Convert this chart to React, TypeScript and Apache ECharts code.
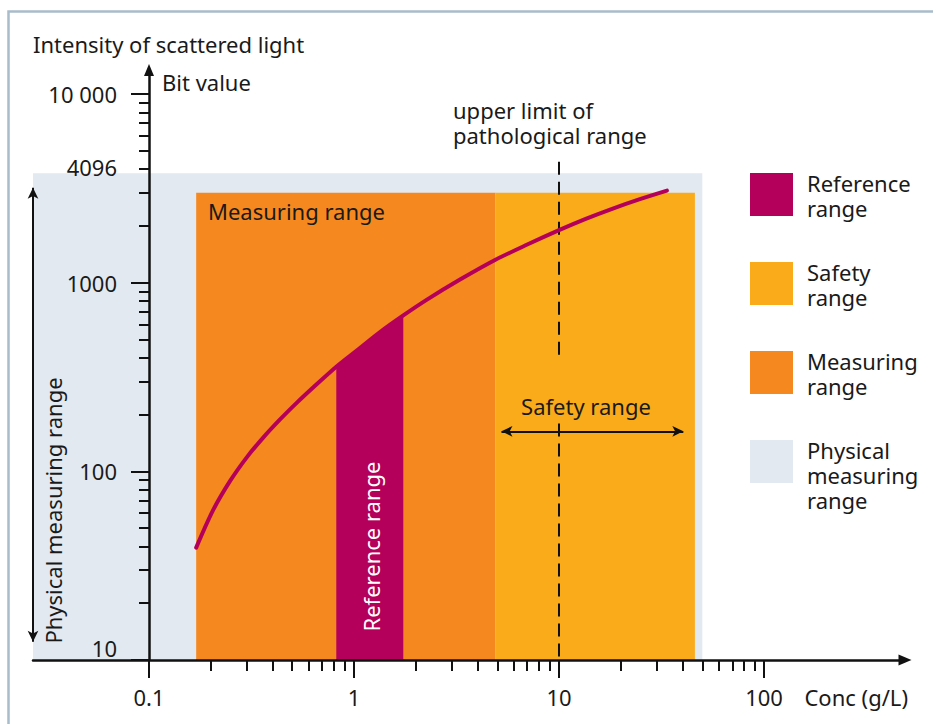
import React, { useEffect, useRef } from 'react';
import * as echarts from 'echarts';

// ---- Axis extents (logarithmic scales) ----
const X_EXTENT = [0.0272, 487];
const Y_EXTENT = [10, 13400];

// ---- Ticks and tick labels ----
const X_LABELS = [0.1, 1, 10, 100];
const X_MINOR_TICKS = [0.2, 0.3, 0.4, 0.5, 0.6, 0.7, 0.8, 0.9, 2, 3, 4, 5, 6, 7, 8, 9, 20, 30, 40, 50, 60, 70, 80, 90];
const Y_LABELS = [10, 100, 1000, 4096, 10000];
const Y_MAJOR_TICKS = [10, 100, 1000, 10000];
const Y_MINOR_TICKS = [20, 30, 40, 50, 60, 70, 80, 90, 200, 300, 400, 500, 600, 700, 800, 900, 2000, 3000, 4000, 5000, 6000, 7000, 8000, 9000];

// ---- Calibration curve: concentration (g/L) -> bit value ----
const CURVE_CONC = [0.17, 0.205, 0.248, 0.3, 0.36, 0.436, 0.527, 0.63, 0.82, 1.05, 1.34, 1.74, 2.27, 3.29, 4.9, 7.0, 10, 13.5, 18.3, 24.8, 33.6];
const CURVE_BIT = [39.4, 61.9, 88.4, 118.6, 150.5, 188.4, 231.3, 277.3, 358.7, 443.7, 547.4, 670.3, 812.8, 1038, 1322, 1592, 1898, 2178, 2470, 2771, 3076];

// ---- Ranges: [conc from, conc to, bit from, bit to] ----
const PHYSICAL_RANGE = [0.0272, 50, 10, 3800];
const MEASURING_RANGE = [0.17, 4.9, 10, 3000];
const SAFETY_RANGE = [4.9, 46, 10, 3000];
const REFERENCE_RANGE = [0.82, 1.74];

// ---- Annotations ----
const UPPER_LIMIT_CONC = 10;
const UPPER_LIMIT_SEGMENTS = [[4375, 395], [179, 10]];
const SAFETY_ARROW_CONC = [5.24, 40.4];
const SAFETY_ARROW_BIT = 163;
const PHYSICAL_ARROW_BIT = [12.5, 3180];

// ---- Legend ----
const LEGEND_NAMES = ['Reference\nrange', 'Safety\nrange', 'Measuring\nrange', 'Physical\nmeasuring\nrange'];
const LEGEND_COLORS = ['#b4005a', '#faab1a', '#f5881f', '#e3e9f0'];

const FONT = 'Noto Sans';
const INK = '#1a1a1a';
const AXIS = '#111111';
const C_REF = LEGEND_COLORS[0];
const C_SAFE = LEGEND_COLORS[1];
const C_MEAS = LEGEND_COLORS[2];
const C_PHYS = LEGEND_COLORS[3];

function fmtBit(v: number): string {
  if (Math.abs(v - 10) < 1e-9) return '{lift|10}';
  const s = String(Math.round(v));
  return v >= 10000 ? s.replace(/\B(?=(\d{3})+(?!\d))/g, ' ') : s;
}

function bandSeries(name: string, range: number[], color: string, z: number) {
  return {
    type: 'custom',
    name,
    z,
    silent: true,
    encode: { x: [0, 1], y: [2, 3] },
    data: [range],
    renderItem: (_p: any, api: any) => {
      const tl = api.coord([api.value(0), api.value(3)]);
      const br = api.coord([api.value(1), api.value(2)]);
      return {
        type: 'rect',
        shape: { x: tl[0], y: tl[1], width: br[0] - tl[0], height: br[1] - tl[1] },
        style: { fill: color },
      };
    },
  };
}

export default function App() {
  const ref = useRef<HTMLDivElement>(null);

  useEffect(() => {
    document.body.style.margin = '0';
    if (!ref.current) return;
    const chart = echarts.init(ref.current, undefined, { renderer: 'svg' });

    const curve = CURVE_CONC.map((c, i) => [c, CURVE_BIT[i]]);
    const refArea = curve.filter(([c]) => c >= REFERENCE_RANGE[0] - 1e-9 && c <= REFERENCE_RANGE[1] + 1e-9);

    const axisLabelStyle = { fontFamily: FONT, fontSize: 22, color: INK };
    const tickLine = { color: AXIS, width: 2 };

    const legendTop = 173;
    const legendStep = 89;
    const legendGraphics: any[] = [];
    LEGEND_NAMES.forEach((name, i) => {
      const top = legendTop + i * legendStep;
      legendGraphics.push({
        type: 'rect', z: 100, silent: true,
        shape: { x: 750, y: top, width: 43, height: 43 },
        style: { fill: LEGEND_COLORS[i] },
      });
      legendGraphics.push({
        type: 'text', z: 100, silent: true, x: 807, y: top - 2.5,
        style: { text: name, fontFamily: FONT, fontSize: 22, fill: INK, lineHeight: 25, align: 'left', verticalAlign: 'top' },
      });
    });

    const option: any = {
      animation: false,
      textStyle: { fontFamily: FONT },
      title: {
        text: 'Intensity of scattered light',
        left: 33, top: 33.4, padding: 0,
        textStyle: { fontFamily: FONT, fontSize: 22, fontWeight: 'normal', color: INK },
      },
      grid: { left: 33, right: 28, top: 70, bottom: 64, containLabel: false, outerBoundsMode: 'none' },
      xAxis: [
        {
          type: 'log', min: X_EXTENT[0], max: X_EXTENT[1], position: 'bottom', z: 10,
          name: 'Conc (g/L)', nameLocation: 'end', nameGap: 3,
          nameTextStyle: { fontFamily: FONT, fontSize: 22, color: INK, align: 'right', verticalAlign: 'top', padding: [26.4, 0, 0, 0] },
          axisLine: { show: true, symbol: ['none', 'triangle'], symbolSize: [11, 13], lineStyle: { color: AXIS, width: 2.5 } },
          axisTick: { show: true, length: 18, customValues: X_LABELS, lineStyle: tickLine },
          axisLabel: { show: true, customValues: X_LABELS, margin: 26, formatter: (v: number) => String(v), ...axisLabelStyle },
          splitLine: { show: false }, minorTick: { show: false },
        },
        {
          type: 'log', min: X_EXTENT[0], max: X_EXTENT[1], position: 'bottom', z: 10,
          axisLine: { show: false },
          axisTick: { show: true, length: 11, customValues: X_MINOR_TICKS, lineStyle: tickLine },
          axisLabel: { show: false },
          splitLine: { show: false },
        },
      ],
      yAxis: [
        {
          type: 'log', min: Y_EXTENT[0], max: Y_EXTENT[1], position: 'left', offset: -116, z: 10,
          name: 'Bit value', nameLocation: 'end', nameGap: -11.5,
          nameTextStyle: { fontFamily: FONT, fontSize: 22, color: INK, align: 'left', verticalAlign: 'middle', padding: [0, 0, 0, 13] },
          axisLine: { show: true, symbol: ['none', 'triangle'], symbolSize: [10, 12], lineStyle: { color: AXIS, width: 2.5 } },
          axisTick: { show: true, length: 18, customValues: Y_MAJOR_TICKS, lineStyle: tickLine },
          axisLabel: {
            show: true, customValues: Y_LABELS, margin: 32, formatter: fmtBit, ...axisLabelStyle,
            rich: { lift: { padding: [0, 0, 24, 0], fontFamily: FONT, fontSize: 22, color: INK } },
          },
          splitLine: { show: false },
        },
        {
          type: 'log', min: Y_EXTENT[0], max: Y_EXTENT[1], position: 'left', offset: -116, z: 10,
          axisLine: { show: false },
          axisTick: { show: true, length: 10, customValues: Y_MINOR_TICKS, lineStyle: tickLine },
          axisLabel: { show: false },
          splitLine: { show: false },
        },
      ],
      series: [
        bandSeries('Physical measuring range', PHYSICAL_RANGE, C_PHYS, 1),
        bandSeries('Measuring range', MEASURING_RANGE, C_MEAS, 1),
        bandSeries('Safety range', SAFETY_RANGE, C_SAFE, 1),
        {
          type: 'line', name: 'Reference range', z: 2, silent: true,
          data: refArea, symbol: 'none', smooth: 0.3,
          lineStyle: { width: 0 },
          areaStyle: { color: C_REF, opacity: 1 },
        },
        ...UPPER_LIMIT_SEGMENTS.map((seg, i) => ({
          type: 'line', name: 'upper limit of pathological range ' + (i + 1), z: 3, silent: true,
          data: [[UPPER_LIMIT_CONC, seg[0]], [UPPER_LIMIT_CONC, seg[1]]],
          symbol: 'none',
          lineStyle: { color: AXIS, width: 2, type: [13, 7] },
        })),
        {
          type: 'line', name: 'Calibration curve', z: 4, silent: true, clip: false,
          data: curve, symbol: 'none', smooth: 0.3,
          lineStyle: { color: C_REF, width: 4, cap: 'round', join: 'round' },
          markLine: {
            silent: true,
            symbol: ['arrow', 'arrow'],
            symbolSize: [8, 11],
            label: { show: false },
            emphasis: { disabled: true },
            lineStyle: { color: AXIS, width: 2, type: 'solid' },
            data: [
              [{ coord: [SAFETY_ARROW_CONC[0], SAFETY_ARROW_BIT] }, { coord: [SAFETY_ARROW_CONC[1], SAFETY_ARROW_BIT] }],
              [{ coord: [PHYSICAL_RANGE[0], PHYSICAL_ARROW_BIT[0]] }, { coord: [PHYSICAL_RANGE[0], PHYSICAL_ARROW_BIT[1]] }],
            ],
          },
        },
      ],
      graphic: [
        {
          type: 'rect', z: -10, silent: true,
          shape: { x: 8.5, y: 11.5, width: 960, height: 760 },
          style: { fill: 'none', stroke: '#a9bccb', lineWidth: 2.5 },
        },
        {
          type: 'text', z: 100, silent: true, x: 453, y: 122,
          style: { text: 'upper limit of\npathological range', fontFamily: FONT, fontSize: 22, fill: INK, lineHeight: 25, align: 'left', verticalAlign: 'middle' },
        },
        {
          type: 'text', z: 100, silent: true, x: 208, y: 211.3,
          style: { text: 'Measuring range', fontFamily: FONT, fontSize: 22, fill: INK, align: 'left', verticalAlign: 'middle' },
        },
        {
          type: 'text', z: 100, silent: true, x: 586, y: 406.3,
          style: { text: 'Safety range', fontFamily: FONT, fontSize: 22, fill: INK, align: 'center', verticalAlign: 'middle' },
        },
        {
          type: 'text', z: 100, silent: true, x: 371, y: 546.5, rotation: Math.PI / 2,
          style: { text: 'Reference range', fontFamily: FONT, fontSize: 22, fill: '#ffffff', align: 'center', verticalAlign: 'middle' },
        },
        {
          type: 'text', z: 100, silent: true, x: 52.8, y: 510.5, rotation: Math.PI / 2,
          style: { text: 'Physical measuring range', fontFamily: FONT, fontSize: 22, fill: INK, align: 'center', verticalAlign: 'middle' },
        },
        ...legendGraphics,
      ],
    };

    chart.setOption(option);
    return () => chart.dispose();
  }, []);

  return <div ref={ref} style={{ width: 933, height: 724, background: '#ffffff' }} />;
}
